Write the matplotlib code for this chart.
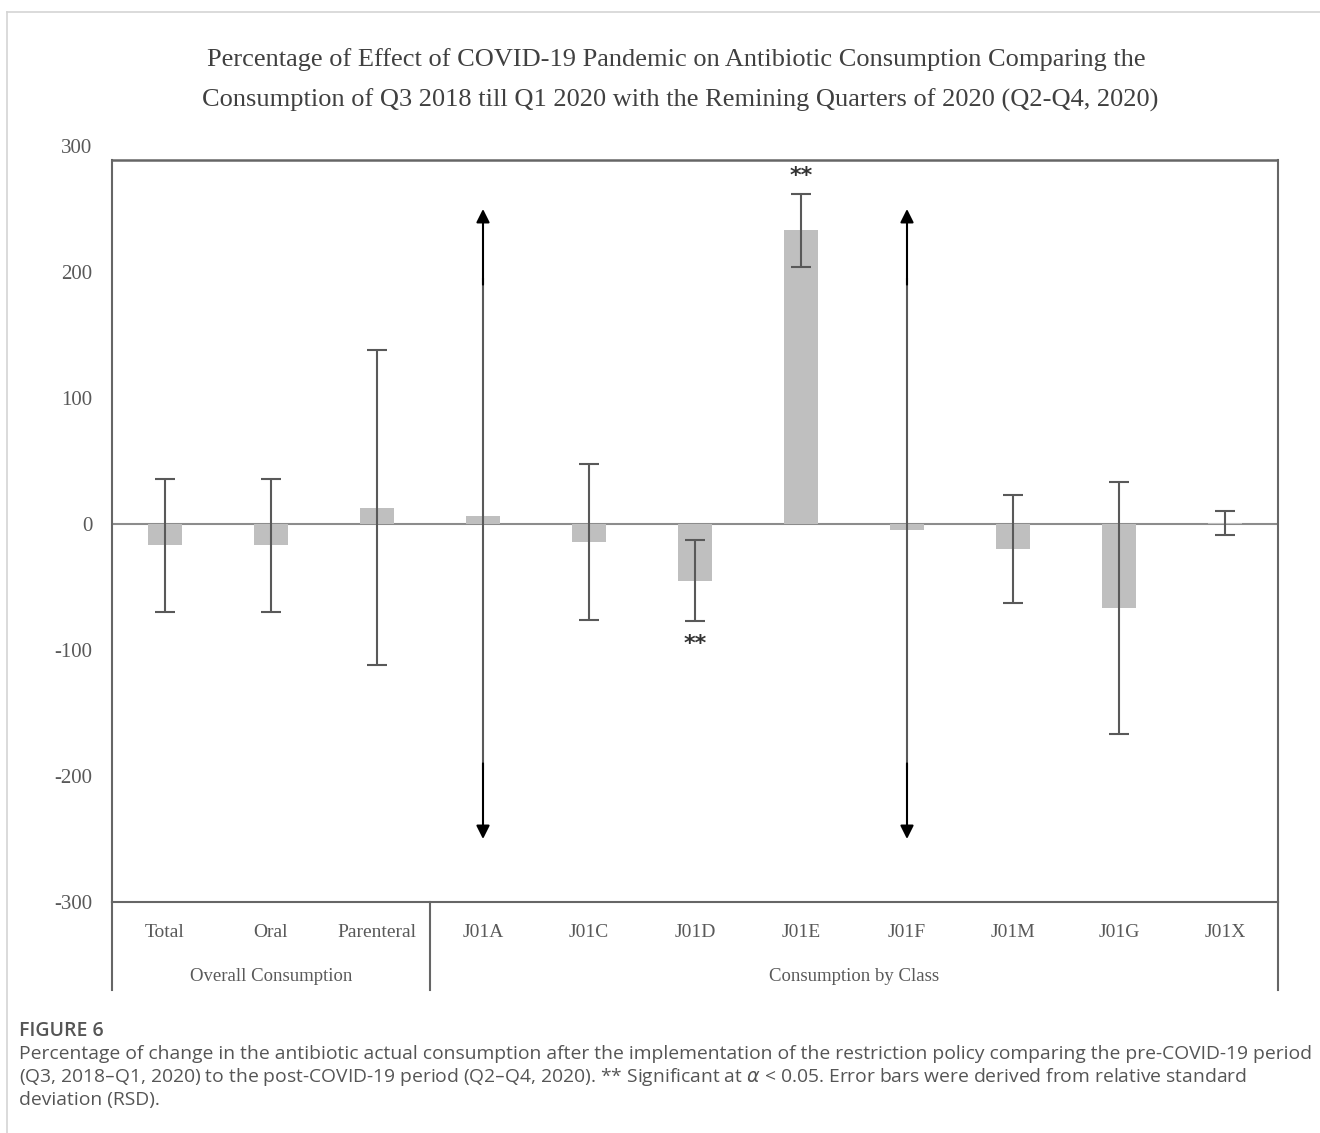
import numpy as np
import matplotlib
matplotlib.use("Agg")
import matplotlib.pyplot as plt
from matplotlib.lines import Line2D

# percentage change per category, with RSD-based error half-widths
categories = ["Total", "Oral", "Parenteral", "J01A", "J01C", "J01D",
              "J01E", "J01F", "J01M", "J01G", "J01X"]
change = [-17, -17, 13, 6, -14, -45, 233, -5, -20, -67, 0.5]
error = [53, 53, 125, np.nan, 62, 32, 29, np.nan, 43, 100, 9.5]
# bars whose error runs off the scale get arrows instead of caps
off_scale = ["J01A", "J01F"]
significant = {"J01E": 276, "J01D": -95}
groups = ["Overall Consumption", "Consumption by Class"]
group_sizes = [3, 8]
yticks = [-300, -200, -100, 0, 100, 200, 300]

W, H = 1320, 1133
fig = plt.figure(figsize=(W / 100, H / 100), dpi=100)

serif = "Liberation Serif"
txt = "#595959"
frame = "#666666"

ax = fig.add_axes([112 / W, 1 - 902 / H, (1278 - 112) / W, (902 - 146) / H])
x = np.arange(len(categories))

ax.axhline(0, color="#8c8c8c", lw=1.5, zorder=1)
ax.bar(x, change, width=0.32, color="#bfbfbf", zorder=2)

err = np.array(error, dtype=float)
ok = ~np.isnan(err)
ax.errorbar(x[ok], np.array(change)[ok], yerr=err[ok], fmt="none",
            ecolor="#595959", elinewidth=1.5, capsize=7, capthick=1.5, zorder=3)

for name in off_scale:
    i = categories.index(name)
    ax.vlines(i, -195, 195, color="#595959", lw=1.5, zorder=3)
    for sgn in (1, -1):
        ax.annotate("", xy=(i, sgn * 250), xytext=(i, sgn * 190),
                    arrowprops=dict(arrowstyle="-|>", color="black", lw=1.5,
                                    mutation_scale=20, shrinkA=0, shrinkB=0),
                    zorder=4)

for name, y in significant.items():
    ax.text(categories.index(name), y, "**", ha="center", va="center",
            fontsize=16, fontweight="bold", color="#333333",
            fontfamily="DejaVu Sans")

ax.set_xlim(-0.5, len(categories) - 0.5)
ax.set_ylim(-300, 300)
ax.set_yticks(yticks)
ax.set_yticklabels([str(t) for t in yticks], fontfamily=serif, fontsize=15,
                   color=txt)
ax.tick_params(axis="y", length=0, pad=14)
ax.set_xticks([])

# plot frame: top edge sits just under the 300 gridline
ax.spines["top"].set_visible(False)
for side in ("left", "right", "bottom"):
    ax.spines[side].set_color(frame)
    ax.spines[side].set_linewidth(1.5)
ax.spines["left"].set_bounds(-300, 289)
ax.spines["right"].set_bounds(-300, 289)
ax.axhline(289, color=frame, lw=1.8, zorder=5)

# category labels and the two-level grouping underneath
for i, c in enumerate(categories):
    ax.text(i, -324, c, ha="center", va="center", fontfamily=serif,
            fontsize=14, color=txt, clip_on=False)

start = -0.5
for g, n in zip(groups, group_sizes):
    ax.text(start + n / 2, -359, g, ha="center", va="center",
            fontfamily=serif, fontsize=13.5, color=txt, clip_on=False)
    start += n
edges = np.cumsum([0] + group_sizes) - 0.5
for e in edges:
    ax.add_line(Line2D([e, e], [-300, -370], color=frame, lw=1.5,
                       clip_on=False))

fig.text(0.512, 1 - 60 / H,
         "Percentage of Effect of COVID-19 Pandemic on Antibiotic Consumption Comparing the",
         ha="center", va="center", fontfamily=serif, fontsize=19, color="#404040")
fig.text(0.515, 1 - 100 / H,
         "Consumption of Q3 2018 till Q1 2020 with the Remining Quarters of 2020 (Q2-Q4, 2020)",
         ha="center", va="center", fontfamily=serif, fontsize=19, color="#404040")

# page frame
fig.add_artist(Line2D([7 / W, 1], [1 - 12 / H] * 2, color="#d4d4d4", lw=1.2))
fig.add_artist(Line2D([7 / W] * 2, [0, 1 - 12 / H], color="#d4d4d4", lw=1.2))

fig.text(19 / W, 1 - 1031 / H, "FIGURE 6", ha="left", va="center",
         fontfamily="Open Sans", fontsize=14, fontweight="semibold",
         color="#555555")
caption = ("Percentage of change in the antibiotic actual consumption after the implementation of the restriction policy comparing the pre-COVID-19 period\n"
           "(Q3, 2018\u2013Q1, 2020) to the post-COVID-19 period (Q2\u2013Q4, 2020). ** Significant at $\\alpha$ < 0.05. Error bars were derived from relative standard\n"
           "deviation (RSD).")
fig.text(19 / W, 1 - 1045 / H, caption, ha="left", va="top",
         fontfamily="Open Sans", fontsize=13.9, color="#555555",
         linespacing=1.2)

fig.savefig("out.png", dpi=100, facecolor="white")
